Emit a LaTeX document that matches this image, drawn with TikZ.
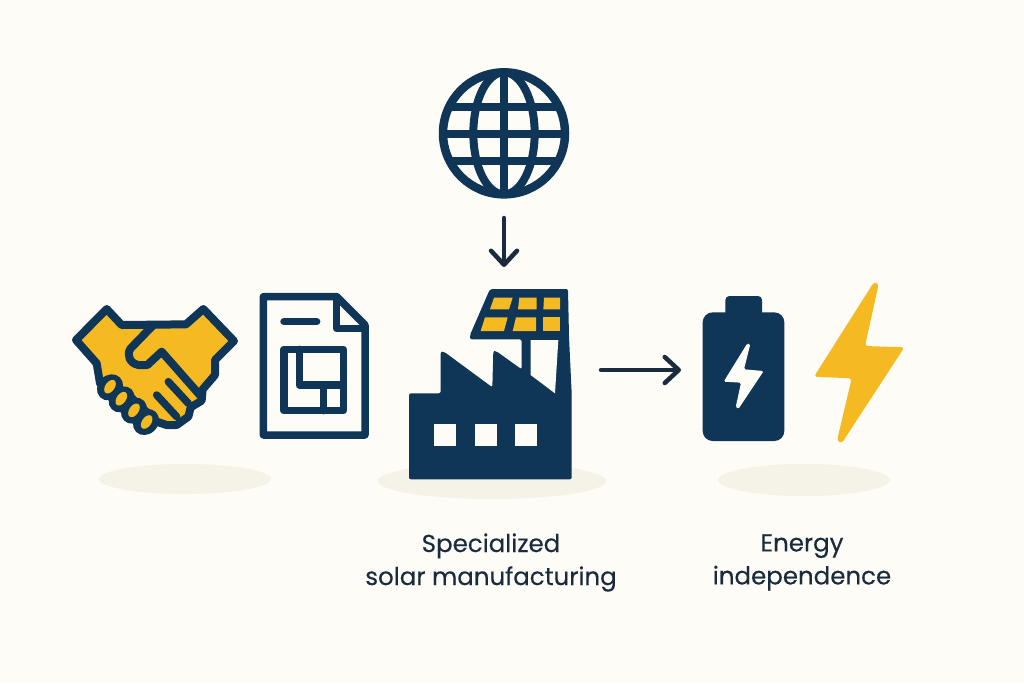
\documentclass[tikz,border=0pt]{standalone}
\usepackage{fontspec}
\usepackage{xcolor}
\usetikzlibrary{arrows.meta}
\setmainfont[FakeBold=0.3]{Poppins}
\definecolor{navy}{HTML}{0F3557}
\definecolor{inkdark}{HTML}{1B2B3E}
\definecolor{sunny}{HTML}{F5B921}
\definecolor{paper}{HTML}{FDFCF7}
\definecolor{shadowtone}{HTML}{F5F2E8}
\tikzset{
  flowarrow/.style={inkdark,line width=4.5pt,line cap=round,-{Straight Barb[round,length=14pt,width=26pt]}},
  caption/.style={align=center,text=inkdark,font=\fontsize{24.5}{33}\selectfont},
  iconbox/.style={inner sep=0pt,outer sep=0pt},
  outline/.style={navy,line width=7.5pt,line join=round,line cap=round},
}

\begin{document}
\begin{tikzpicture}[x=1pt,y=-1pt]
\useasboundingbox[fill=paper] (0,0) rectangle (1024,683);
% shadows
\fill[shadowtone] (185,479) ellipse (86 and 15);
\fill[shadowtone] (492,481) ellipse (114 and 18);
\fill[shadowtone] (804,480) ellipse (86 and 16);
% handshake
\begin{scope}[shift={(60,280)},scale=1/3]
\draw[outline,line width=8pt,fill=sunny] (140,87) -- (185,135) -- (378,133) -- (430,87) -- (522,183) -- (465,240) -- (465,285) -- (428,328) -- (425,362) -- (392,382) -- (385,410) -- (350,435) -- (320,435) -- (290,425) -- (200,340) -- (120,310) -- (110,250) -- (48,180) -- cycle;
\fill[navy] (150,322) ellipse [x radius=42,y radius=36,rotate=45];
\fill[navy] (185,358) ellipse [x radius=42,y radius=36,rotate=45];
\fill[navy] (222,392) ellipse [x radius=42,y radius=36,rotate=45];
\fill[navy] (258,426) ellipse [x radius=42,y radius=36,rotate=45];
\fill[sunny] (150,320) ellipse [x radius=23,y radius=14,rotate=55];
\fill[sunny] (184,356) ellipse [x radius=23,y radius=14,rotate=55];
\fill[sunny] (222,391) ellipse [x radius=23,y radius=14,rotate=55];
\fill[sunny] (260,426) ellipse [x radius=23,y radius=14,rotate=55];
\draw[outline,line width=8pt] (280,135) -- (212,205) .. controls (198,225) and (210,250) .. (235,255) -- (262,255) -- (305,215) -- (422,348);
\draw[outline] (325,305) -- (385,370);
\draw[outline] (290,345) -- (350,410);
\end{scope}
% document
\begin{scope}[shift={(60,280)},scale=1/3]
\draw[outline] (610,50) -- (830,50) -- (915,135) -- (915,465) -- (610,465) -- cycle;
\draw[outline] (830,50) -- (830,145) -- (915,145);
\draw[outline] (672,125) -- (770,125);
\draw[outline] (672,208) rectangle (850,392);
\draw[outline] (718,208) -- (718,315) -- (850,315);
\draw[outline] (790,315) -- (790,392);
\end{scope}
% globe
\node[iconbox,circle,minimum size=130pt] (globe) at (504,133) {};
\begin{scope}[shift={(420,60)},scale=1/3]
\begin{scope}
\clip (252,220) circle (190);
\draw[navy,line width=8.5pt] (252,30) -- (252,410);
\draw[navy,line width=8pt] (60,140) -- (440,140);
\draw[navy,line width=8pt] (60,222) -- (440,222);
\draw[navy,line width=8pt] (60,303) -- (440,303);
\draw[navy,line width=8pt] (252,220) ellipse (92 and 183);
\end{scope}
\draw[navy,line width=8.5pt] (252,220) circle (183);
\end{scope}
% factory
\node[iconbox,minimum width=196pt,minimum height=190pt] (factory) at (491,384) {};
\begin{scope}[shift={(370,270)},scale=1/3]
\fill[navy,rounded corners=2pt] (117,370) -- (212,370) -- (212,245) -- (222,245) -- (367,352) -- (370,243) -- (378,243) -- (455,298) -- (455,208) -- (300,208) -- (300,195) -- (360,57) -- (594,57) -- (597,200) -- (605,370) -- (605,628) -- (117,628) -- cycle;
\fill[paper] (482,210) -- (565,210) -- (555,370) -- (482,315) -- cycle;
\fill[sunny] (372,83) -- (428,83) -- (417,118) -- (360,118) -- cycle;
\fill[sunny] (448,83) -- (500,83) -- (500,118) -- (444,118) -- cycle;
\fill[sunny] (522,83) -- (570,83) -- (570,118) -- (520,118) -- cycle;
\fill[sunny] (345,142) -- (413,142) -- (402,183) -- (332,183) -- cycle;
\fill[sunny] (438,142) -- (498,142) -- (498,183) -- (428,183) -- cycle;
\fill[sunny] (520,142) -- (570,142) -- (570,183) -- (520,183) -- cycle;
\fill[paper] (193,462) rectangle (257,527);
\fill[paper] (316,462) rectangle (380,527);
\fill[paper] (436,462) rectangle (500,527);
\end{scope}
% battery and bolt
\node[iconbox,minimum width=82pt,minimum height=145pt] (battery) at (744,368) {};
\begin{scope}[shift={(590,270)},scale=1/3]
\fill[navy,rounded corners=4pt] (406,78) rectangle (516,140);
\fill[navy,rounded corners=10pt] (338,127) rectangle (583,513);
\fill[paper,rounded corners=1.5pt] (472,220) -- (481,222) -- (462,298) -- (521,303) -- (445,417) -- (437,412) -- (453,338) -- (401,335) -- cycle;
\fill[sunny,rounded corners=3pt] (852,36) -- (866,42) -- (825,228) -- (943,232) -- (755,520) -- (741,512) -- (785,325) -- (672,320) -- cycle;
\end{scope}
% arrows
\draw[flowarrow,shorten <=20pt,shorten >=22pt] (globe.south) -- (globe.south |- factory.north);
\draw[flowarrow,shorten <=0pt,shorten >=22pt] (601,370) -- (battery.west |- 0,370);
% labels
\node[caption] (labelfactory) at (491,562.5) {Specialized\\solar manufacturing};
\node[caption] (labelenergy) at (802,562.5) {Energy\\independence};
\end{tikzpicture}
\end{document}
